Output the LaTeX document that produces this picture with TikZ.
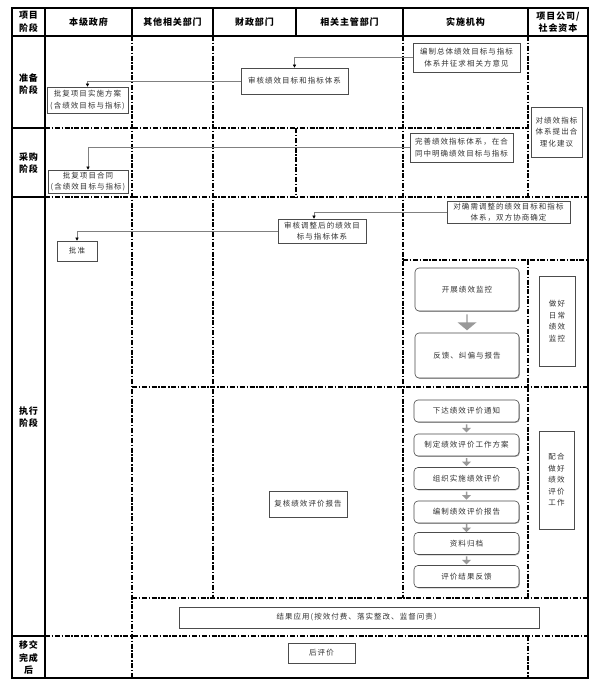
\documentclass[tikz,border=0pt]{standalone}
\usepackage{fontspec}
\setmainfont{Noto Sans CJK SC}
\newfontfamily\boxfont[LetterSpace=14]{Noto Sans CJK SC}
\newfontfamily\headfont[LetterSpace=10]{Noto Sans CJK SC}
\usetikzlibrary{positioning,calc,shapes.arrows,shadows,arrows.meta}

\begin{document}
\begin{tikzpicture}[x=1pt, y=-1pt,
    frame/.style={line width=1.1pt},
    dashdot/.style={line width=1.2pt, dash pattern=on 5pt off 1.7pt on 1.4pt off 1.7pt},
    box/.style={draw=black!70, line width=0.6pt, fill=white, align=center, inner sep=1pt, text=black!80,
        font=\boxfont\fontsize{7.5}{11.5}\selectfont,
        drop shadow={shadow xshift=0.8pt, shadow yshift=-0.8pt, fill=black!60, opacity=0.6}},
    rbox/.style={box, rounded corners=4pt},
    head/.style={align=center, font=\headfont\bfseries\fontsize{9}{12.5}\selectfont},
    link/.style={draw=black!50, line width=0.6pt, -{Triangle[length=3.2pt, width=3.2pt, color=black]}},
    blockarrow/.style={single arrow, shape border rotate=270, fill=black!40, inner sep=0pt,
        single arrow head extend=1pt, minimum height=8pt, minimum width=9pt}]
        \useasboundingbox (0,0) rectangle (600,691);
        \fill[white] (0,0) rectangle (600,691);

        % Draw the frame and the header row
        \draw[frame] (12,8) rectangle (588,678);
        \draw[frame] (12,36) -- (588,36);
        \draw[frame] (45,8) -- (45,678);
        \foreach \x in {132, 213, 296, 403, 528}{
            \draw[frame] (\x,8) -- (\x,36);
        }
        \foreach \y in {128, 197, 636}{
            \draw[frame] (12,\y) -- (45,\y);
        }

        % dash-dot lines of the lanes
        \foreach \y/\a/\b in {128/45/528, 197/45/588, 260/403/588, 387/132/588, 598/132/588, 636/45/588}{
            \draw[dashdot] (\a,\y) -- (\b,\y);
        }
        \foreach \x/\a/\b in {132/36/678, 213/36/598, 296/128/197, 403/36/598, 528/36/197, 528/260/598, 528/636/678}{
            \draw[dashdot] (\x,\a) -- (\x,\b);
        }

        % Draw the headers
        \node[head] (h0) at (28.5,22) {项目\\阶段};
        \foreach \x/\t[count=\c] in {88.5/本级政府, 172.5/其他相关部门, 254.5/财政部门, 349.5/相关主管部门, 465.5/实施机构}{
            \node[head] (h\c) at (\x,22) {\t};
        }
        \node[head] (h6) at (558,22) {项目公司/\\社会资本};

        % the stages
        \node[head] (s1) at (28.5,84) {准备\\阶段};
        \node[head] (s2) at (28.5,163) {采购\\阶段};
        \node[head] (s3) at (28.5,417) {执行\\阶段};
        \node[head] (s4) at (28.5,658) {移交\\完成\\后};

        % preparation and procurement
        \node[box, minimum width=107pt, minimum height=29pt] (draft) at (466.5,57.5) {编制总体绩效目标与指标\\体系并征求相关方意见};
        \node[box, minimum width=107pt, minimum height=26pt] (review) at (294.5,81) {审核绩效目标和指标体系};
        \node[box, minimum width=81pt, minimum height=26pt] (plan) at (87.5,100) {批复项目实施方案\\(含绩效目标与指标)};
        \node[box, minimum width=51pt, minimum height=50pt] (advice) at (556.5,132) {对绩效指标\\体系提出合\\理化建议};
        \node[box, minimum width=103pt, minimum height=29pt] (refine) at (461.5,147.5) {完善绩效指标体系，在合\\同中明确绩效目标与指标};
        \node[box, minimum width=80pt, minimum height=23pt] (contract) at (88,181.5) {批复项目合同\\(含绩效目标与指标)};

        \draw[link] (draft.west) -| (review.north);
        \draw[link] (review.west) -| (plan.north);
        \draw[link] (refine.west) -| (contract.north);

        % execution: adjustment
        \node[box, minimum width=123pt, minimum height=22pt] (adjust) at (508.5,212) {对确需调整的绩效目标和指标\\体系，双方协商确定};
        \node[box, minimum width=88pt, minimum height=24pt] (recheck) at (322,231) {审核调整后的绩效目\\标与指标体系};
        \node[box, minimum width=40pt, minimum height=20pt] (approve) at (77,251) {批准};
        \draw[link] (adjust.west) -| ([xshift=-8pt]recheck.north);
        \draw[link] (recheck.west) -| (approve.north);

        % execution: monitoring
        \node[rbox, minimum width=104pt, minimum height=43pt] (monitor) at (467,289.5) {开展绩效监控};
        \node[rbox, minimum width=104pt, minimum height=45pt] (feedback) at (467,355.5) {反馈、纠偏与报告};
        \node[blockarrow, minimum height=16pt, minimum width=19pt, single arrow head extend=2.5pt, single arrow tip angle=100]
            (ma) at ($(monitor.south)!0.5!(feedback.north)$) {};
        \node[box, minimum width=36pt, minimum height=90pt] (daily) at (557,321) {做好\\日常\\绩效\\监控};

        % execution: evaluation
        \foreach \y/\t[count=\c] in {411/下达绩效评价通知, 445/制定绩效评价工作方案, 478.5/组织实施绩效评价, 512/编制绩效评价报告, 543.5/资料归档, 576.5/评价结果反馈}{
            \node[rbox, minimum width=105pt, minimum height=22pt] (e\c) at (466.5,\y) {\t};
        }
        \foreach \a[count=\b from 2] in {1,...,5}{
            \node[blockarrow] (ea\a) at ($(e\a.south)!0.5!(e\b.north)$) {};
        }
        \node[box, minimum width=35pt, minimum height=98pt] (assist) at (556.5,480) {配合\\做好\\绩效\\评价\\工作};
        \node[box, minimum width=78pt, minimum height=26pt] (verify) at (308,504) {复核绩效评价报告};

        % results and after transfer
        \node[box, minimum width=360pt, minimum height=21pt] (apply) at (359,617.5) {结果应用(按效付费、落实整改、监督问责）};
        \node[box, minimum width=67pt, minimum height=20pt] (post) at (321.5,653) {后评价};
\end{tikzpicture}
\end{document}
